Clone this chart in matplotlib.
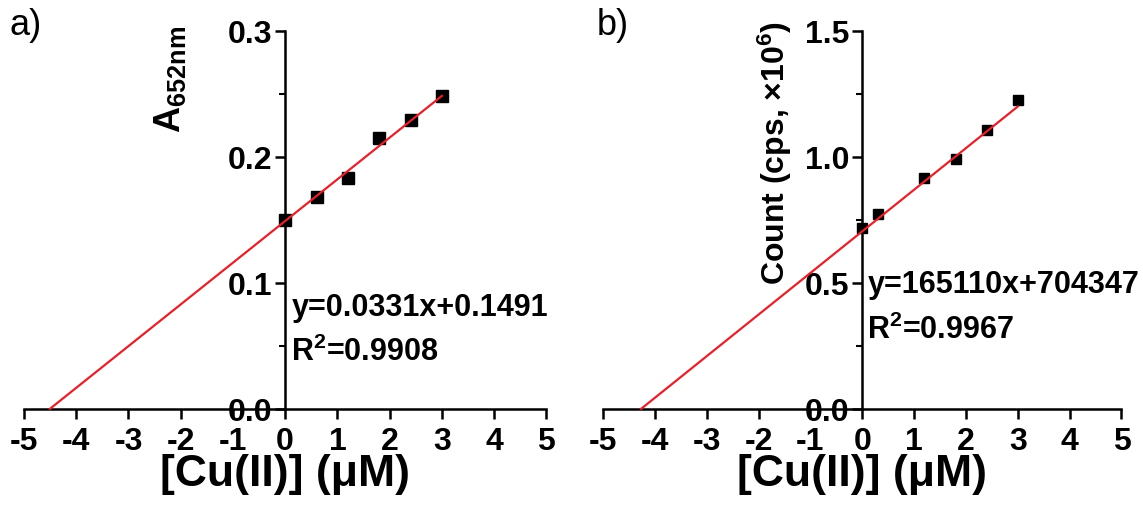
import matplotlib.pyplot as plt
from matplotlib.ticker import MultipleLocator

plt.rcParams['font.family'] = ['Liberation Sans', 'DejaVu Sans']
plt.rcParams['font.weight'] = 'bold'
plt.rcParams['mathtext.default'] = 'regular'
plt.rcParams['axes.unicode_minus'] = False

# panel a: absorbance at 652 nm
conc_a = [0, 0.6, 1.2, 1.8, 2.4, 3.0]
abs_a = [0.150, 0.168, 0.183, 0.215, 0.229, 0.248]
err_a = [0.002, 0.002, 0.004, 0.003, 0.002, 0.003]
slope_a, icpt_a = 0.0331, 0.1491

# panel b: count (cps, x10^6)
conc_b = [0, 0.3, 1.2, 1.8, 2.4, 3.0]
cnt_b = [0.716, 0.775, 0.918, 0.990, 1.108, 1.225]
err_b = [0.010, 0.008, 0.008, 0.008, 0.008, 0.010]
slope_b, icpt_b = 0.165110, 0.704347

fig = plt.figure(figsize=(11.43, 5.06), dpi=100)
ax1 = fig.add_axes([0.021, 0.19, 0.457, 0.747])
ax2 = fig.add_axes([0.5276, 0.19, 0.4535, 0.747])


def style(ax, ymax, major):
    ax.set_xlim(-5, 5)
    ax.set_ylim(0, ymax)
    ax.spines['left'].set_position(('data', 0))
    ax.spines['top'].set_visible(False)
    ax.spines['right'].set_visible(False)
    for s in ('left', 'bottom'):
        ax.spines[s].set_linewidth(1.8)
    ax.xaxis.set_major_locator(MultipleLocator(1))
    ax.yaxis.set_major_locator(MultipleLocator(major))
    ax.yaxis.set_minor_locator(MultipleLocator(major / 2))
    ax.tick_params(axis='both', which='major', direction='out', length=7,
                   width=1.8, labelsize=23)
    ax.tick_params(axis='y', which='minor', direction='out', length=4, width=1.5)
    ax.tick_params(axis='x', pad=5)
    ax.tick_params(axis='y', pad=2)
    ax.set_xlabel('[Cu(II)] (\u03bcM)', fontsize=32, fontweight='bold', labelpad=-2)
    ax.patch.set_alpha(0)


def fit_line(ax, slope, icpt, xmax):
    x0 = -icpt / slope
    ax.plot([x0, xmax], [slope * x0 + icpt, slope * xmax + icpt],
            color='#e8202a', lw=1.6, zorder=4, clip_on=False)


# panel a
style(ax1, 0.3, 0.1)
ax1.yaxis.set_major_formatter(lambda v, p: f'{v:.1f}')
ax1.errorbar(conc_a, abs_a, yerr=err_a, fmt='s', color='black', ms=8,
             capsize=2, elinewidth=1, zorder=3)
fit_line(ax1, slope_a, icpt_a, 3.0)
ax1.text(-2.2, 0.262, 'A$_{652nm}$', rotation=90, fontsize=26,
         fontweight='bold', ha='center', va='center')
ax1.text(0.12, 0.081, 'y=0.0331x+0.1491', fontsize=22, fontweight='bold',
         va='center')
ax1.text(0.12, 0.046, 'R$^2$=0.9908', fontsize=22, fontweight='bold',
         va='center')

# panel b
style(ax2, 1.5, 0.5)
ax2.yaxis.set_major_formatter(lambda v, p: f'{v:.1f}')
ax2.errorbar(conc_b, cnt_b, yerr=err_b, fmt='s', color='black', ms=7,
             capsize=2, elinewidth=1, zorder=3)
fit_line(ax2, slope_b, icpt_b, 3.0)
ax2.text(-1.68, 1.02, 'Count (cps, \u00d710$^6$)', rotation=90, fontsize=23,
         fontweight='bold', ha='center', va='center')
ax2.text(0.1, 0.496, 'y=165110x+704347', fontsize=22, fontweight='bold',
         va='center')
ax2.text(0.1, 0.317, 'R$^2$=0.9967', fontsize=22, fontweight='bold',
         va='center')

fig.text(0.008, 0.95, 'a)', fontsize=26, fontweight='normal', va='center')
fig.text(0.522, 0.95, 'b)', fontsize=26, fontweight='normal', va='center')

fig.savefig('out.png', dpi=100)
